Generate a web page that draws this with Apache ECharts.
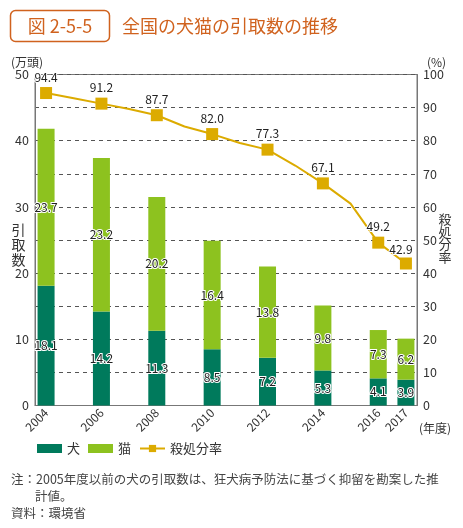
<!DOCTYPE html>
<html>
<head>
<meta charset="utf-8">
<script src="https://cdn.jsdelivr.net/npm/echarts@6/dist/echarts.min.js"></script>
<style>
html,body{margin:0;padding:0;background:#fff;}
#c{width:463px;height:528px;}
</style>
</head>
<body>
<div id="c"></div>
<script>
// ---- data ----
var barYears = [2004, 2006, 2008, 2010, 2012, 2014, 2016, 2017];
var dogValues = [18.1, 14.2, 11.3, 8.5, 7.2, 5.3, 4.1, 3.9];
var catValues = [23.7, 23.2, 20.2, 16.4, 13.8, 9.8, 7.3, 6.2];
var rateYears = [2004, 2005, 2006, 2007, 2008, 2009, 2010, 2011, 2012, 2013, 2014, 2015, 2016, 2017];
var rateValues = [94.4, 92.8, 91.2, 89.6, 87.7, 84.3, 82.0, 79.3, 77.3, 72.5, 67.1, 61.0, 49.2, 42.9];
var leftTicks = [0, 10, 20, 30, 40, 50];
var rightTicks = [0, 10, 20, 30, 40, 50, 60, 70, 80, 90, 100];

var FONT = '"Noto Sans CJK JP", "Noto Sans", sans-serif';
var DOG = '#007a5c';
var CAT = '#8dc21f';
var RATE = '#dcab00';
var ORANGE = '#d0621e';
var TXT = '#333';

// bar data stored as [value, year]; encode maps x <- year, y <- value (so stacking acts on the value)
function barPairs(xs, ys) { return xs.map(function (x, i) { return [ys[i], x]; }); }

var barLabel = {
  show: true, position: 'inside', color: '#222', fontSize: 12, fontFamily: FONT,
  textBorderColor: '#fff', textBorderWidth: 2,
  formatter: function (p) { return Number(p.value[0]).toFixed(1); }
};

var rateData = rateYears.map(function (y, i) {
  var marked = barYears.indexOf(y) >= 0;
  var item = {
    value: [y, rateValues[i]],
    symbol: marked ? 'rect' : 'none',
    label: { show: marked }
  };
  if (y === 2017) item.label.offset = [-5, 2];
  return item;
});

var chart = echarts.init(document.getElementById('c'), null, { renderer: 'canvas' });
chart.setOption({
  animation: false,
  textStyle: { fontFamily: FONT },
  grid: { left: 35, right: 46, top: 74.5, bottom: 122.5, show: true, borderColor: '#777', borderWidth: 1, containLabel: false, z: 0 },
  legend: {
    left: 37, top: 442, padding: 0, itemWidth: 25, itemHeight: 9, itemGap: 8,
    textStyle: { fontSize: 13, color: TXT, fontFamily: FONT },
    data: [{ name: '犬', icon: 'rect' }, { name: '猫', icon: 'rect' }, { name: '殺処分率' }]
  },
  xAxis: {
    type: 'value', min: 2003.6, max: 2017.4, z: 0,
    axisLine: { show: true, lineStyle: { color: '#777' } },
    axisTick: { show: false },
    splitLine: { show: false },
    axisLabel: {
      customValues: barYears, rotate: 45, margin: 5, fontSize: 12, color: TXT, fontFamily: FONT,
      formatter: function (v) { return String(v); }
    }
  },
  yAxis: [{
    type: 'value', min: 0, max: 50, interval: 10, z: 0,
    axisLine: { show: true, lineStyle: { color: '#777' } },
    axisTick: { show: false },
    splitLine: { show: false },
    axisLabel: { customValues: leftTicks, fontSize: 12.5, color: TXT, margin: 6, fontFamily: FONT }
  }, {
    type: 'value', min: 0, max: 100, interval: 10, position: 'right', z: 0,
    axisLine: { show: true, lineStyle: { color: '#777' } },
    axisTick: { show: false },
    splitLine: { show: true, lineStyle: { color: '#555', type: [4, 4], width: 1 } },
    axisLabel: { customValues: rightTicks, fontSize: 12.5, color: TXT, margin: 6, fontFamily: FONT }
  }],
  series: [{
    name: '犬', type: 'bar', stack: 'a', barWidth: 17, yAxisIndex: 0,
    encode: { x: 1, y: 0 },
    itemStyle: { color: DOG }, label: barLabel, z: 10,
    data: barPairs(barYears, dogValues)
  }, {
    name: '猫', type: 'bar', stack: 'a', barWidth: 17, yAxisIndex: 0,
    encode: { x: 1, y: 0 },
    itemStyle: { color: CAT }, label: barLabel, z: 10,
    data: barPairs(barYears, catValues)
  }, {
    name: '殺処分率', type: 'line', yAxisIndex: 1, symbol: 'rect', symbolSize: 12,
    lineStyle: { color: RATE, width: 2 }, itemStyle: { color: RATE }, z: 12,
    label: {
      show: true, position: 'top', distance: 4, fontSize: 12, color: '#222', fontFamily: FONT,
      textBorderColor: '#fff', textBorderWidth: 2,
      formatter: function (p) { return Number(p.value[1]).toFixed(1); }
    },
    data: rateData
  }],
  graphic: [
    { type: 'rect', shape: { x: 10.5, y: 10.5, width: 99, height: 31, r: 5 }, style: { fill: 'none', stroke: ORANGE, lineWidth: 1.5 } },
    { type: 'text', x: 60, y: 26.5, style: { text: '図 2-5-5', fill: ORANGE, fontSize: 18, fontFamily: FONT, align: 'center', verticalAlign: 'middle' } },
    { type: 'text', x: 122, y: 26.5, style: { text: '全国の犬猫の引取数の推移', fill: ORANGE, fontSize: 18, fontFamily: FONT, align: 'left', verticalAlign: 'middle' } },
    { type: 'text', x: 11, y: 62, style: { text: '(万頭)', fill: TXT, fontSize: 12, fontFamily: FONT, verticalAlign: 'middle' } },
    { type: 'text', x: 427, y: 62, style: { text: '(%)', fill: TXT, fontSize: 12, fontFamily: FONT, verticalAlign: 'middle' } },
    { type: 'text', x: 18.5, y: 245, style: { text: '引\n取\n数', fill: TXT, fontSize: 14, lineHeight: 15, fontFamily: FONT, align: 'center', verticalAlign: 'middle' } },
    { type: 'text', x: 445, y: 238, style: { text: '殺\n処\n分\n率', fill: TXT, fontSize: 13, lineHeight: 12.8, fontFamily: FONT, align: 'center', verticalAlign: 'middle' } },
    { type: 'text', x: 419, y: 428, style: { text: '(年度)', fill: TXT, fontSize: 12, fontFamily: FONT, verticalAlign: 'middle' } },
    { type: 'text', x: 11, y: 479, style: { text: '注：2005年度以前の犬の引取数は、狂犬病予防法に基づく抑留を勘案した推', fill: '#444', fontSize: 12.5, fontFamily: FONT, verticalAlign: 'middle' } },
    { type: 'text', x: 35, y: 496, style: { text: '計値。', fill: '#444', fontSize: 12.5, fontFamily: FONT, verticalAlign: 'middle' } },
    { type: 'text', x: 11, y: 513, style: { text: '資料：環境省', fill: '#444', fontSize: 12.5, fontFamily: FONT, verticalAlign: 'middle' } }
  ]
});
</script>
</body>
</html>
